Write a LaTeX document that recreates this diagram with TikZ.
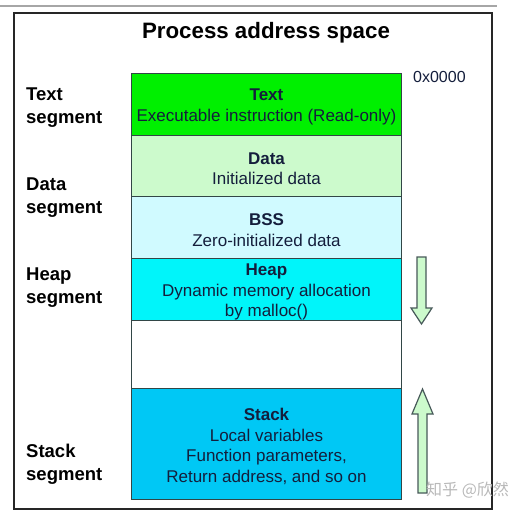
\documentclass[tikz,border=0pt]{standalone}
\usepackage{fontspec}
\setmainfont{Liberation Sans}
\newfontfamily\cjk{Noto Sans CJK SC}
\definecolor{textgreen}{RGB}{0,240,0}
\definecolor{datagreen}{RGB}{204,250,204}
\definecolor{bsscyan}{RGB}{208,250,255}
\definecolor{heapcyan}{RGB}{0,245,250}
\definecolor{stackblue}{RGB}{0,200,245}
\definecolor{segborder}{RGB}{50,70,70}
\definecolor{boxtext}{RGB}{20,30,60}
\definecolor{arrowfill}{RGB}{204,250,204}
\tikzset{
  seg/.style={draw=segborder, line width=1pt, minimum width=270pt, inner sep=0pt,
    anchor=north west},
  segtext/.style={inner sep=0pt, yshift=-2.5pt, font=\fontsize{17}{20.5}\selectfont, text=boxtext, align=center},
  sidelabel/.style={anchor=west, align=left, font=\fontsize{18.5}{23}\selectfont\bfseries, text=black, inner sep=0pt},
  growarrow/.style={draw=segborder!90, line width=1.2pt, fill=arrowfill, line join=miter}
}
\begin{document}
\begin{tikzpicture}[x=1pt,y=-1pt]
\useasboundingbox (0,0) rectangle (522,516);
\fill[white] (0,0) rectangle (522,516);
% top rule and frame
\draw[gray!70, line width=1.2pt] (0,6) -- (497,6);
\draw[black!85, line width=1.2pt] (14,13) rectangle (492,509);
% title
\node[font=\fontsize{22.3}{24}\selectfont\bfseries] (title) at (266,32.5) {Process address space};
% segments
\node[seg, fill=textgreen, minimum height=62pt] (text) at (131,73) {};
\node[seg, fill=datagreen, minimum height=61pt] (data) at (131,135) {};
\node[seg, fill=bsscyan, minimum height=62pt] (bss) at (131,196) {};
\node[seg, fill=heapcyan, minimum height=62pt] (heap) at (131,258) {};
\node[seg, fill=white, minimum height=68pt] (free) at (131,320) {};
\node[seg, fill=stackblue, minimum height=111pt] (stack) at (131,388) {};
\node[segtext] (ttext) at (text.center) {\textbf{Text}\\Executable instruction (Read-only)};
\node[segtext] (tdata) at (data.center) {\textbf{Data}\\Initialized data};
\node[segtext] (tbss) at (bss.center) {\textbf{BSS}\\Zero-initialized data};
\node[segtext] (theap) at (heap.center) {\textbf{Heap}\\Dynamic memory allocation\\by malloc()};
\node[segtext] (tstack) at (stack.center) {\textbf{Stack}\\Local variables\\Function parameters,\\Return address, and so on};
% address label
\node[anchor=west, inner sep=0pt, font=\fontsize{16}{17}\selectfont, text=boxtext] (addr) at (413,77) {0x0000};
% side labels
\node[sidelabel] (ltext) at (26,108) {Text\\segment};
\node[sidelabel] (ldata) at (26,198) {Data\\segment};
\node[sidelabel] (lheap) at (26,288) {Heap\\segment};
\node[sidelabel] (lstack) at (26,464) {Stack\\segment};
% growth arrows
\draw[growarrow] (417,257) -- (426,257) -- (426,308) -- (432,308) -- (421.5,324) -- (411,308) -- (417,308) -- cycle;
\draw[growarrow] (422.5,389) -- (433,414) -- (427,414) -- (427,493) -- (418,493) -- (418,414) -- (412,414) -- cycle;
% watermark
\node[anchor=west, inner sep=0pt, font=\cjk\fontsize{16}{17}\selectfont, text=gray!55] (wm) at (426,490) {知乎 @欣然};
\end{tikzpicture}
\end{document}
